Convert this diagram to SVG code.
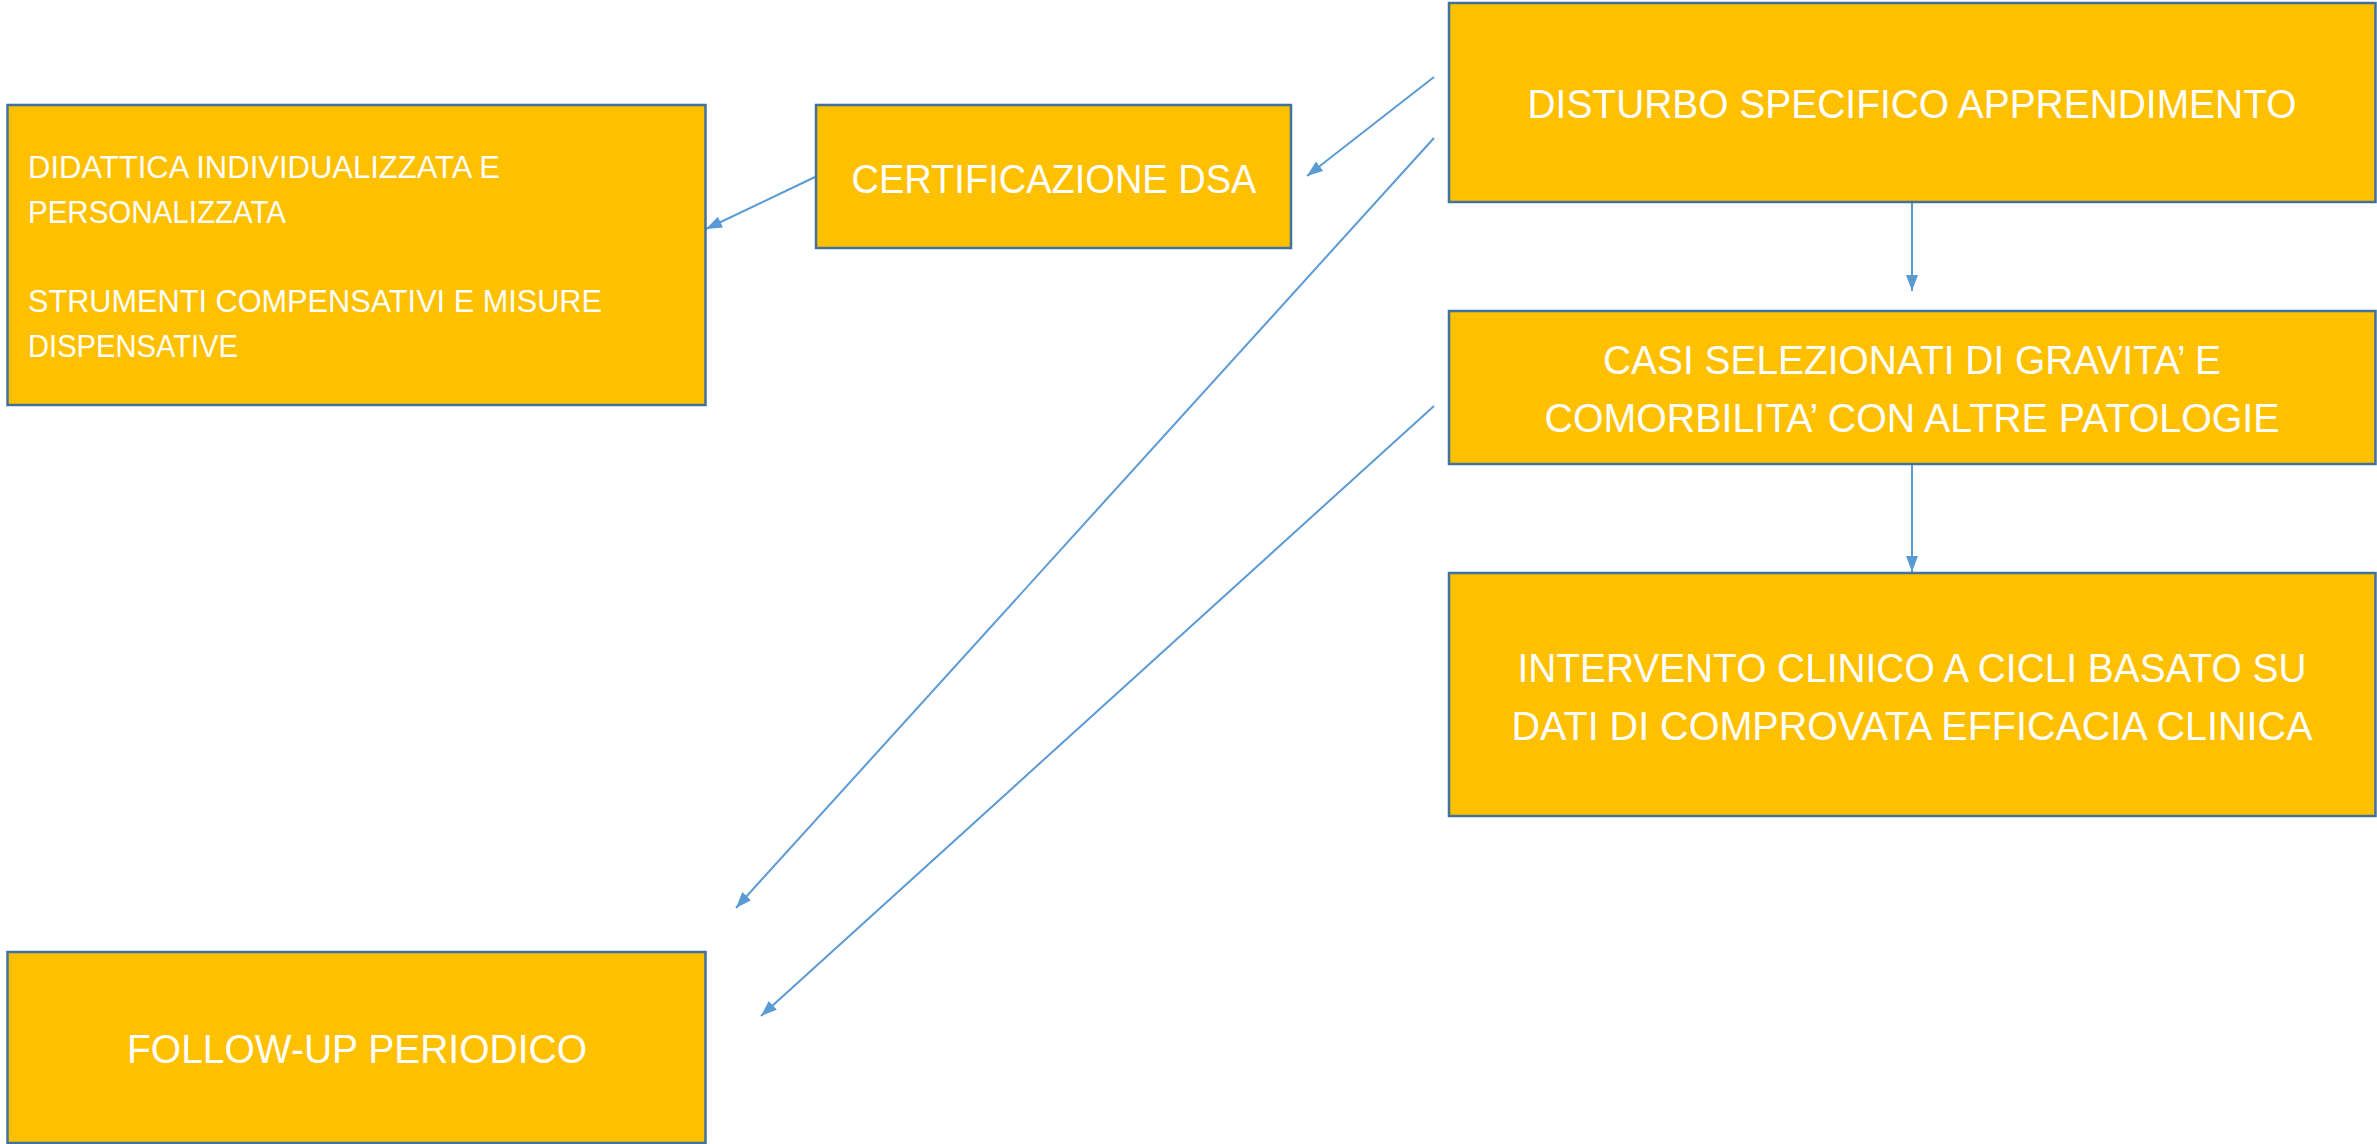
<svg xmlns="http://www.w3.org/2000/svg" width="2377" height="1144" viewBox="0 0 2377 1144">
<style>
.box{fill:#FFC000;stroke:#41719C;stroke-width:2.5}
.t{fill:#FFFFFF;font-family:"Liberation Sans",Arial,sans-serif;font-size:41px}
.tc{text-anchor:middle}
.ts{font-size:32px}
.c{stroke:#5B9BD5;stroke-width:2;fill:none;marker-end:url(#ah)}
</style>
<defs>
<marker id="ah" markerUnits="userSpaceOnUse" markerWidth="17" markerHeight="13" refX="16" refY="6.5" orient="auto" viewBox="0 0 17 13">
<path d="M0,0.5 L16,6.5 L0,12.5 z" fill="#5B9BD5"/>
</marker>
</defs>
<rect width="2377" height="1144" fill="#FFFFFF"/>
<g id="connectors">
<line class="c" x1="1912" y1="202" x2="1912" y2="291"/>
<line class="c" x1="1912" y1="464" x2="1912" y2="572"/>
<line class="c" x1="1434" y1="77" x2="1307" y2="176"/>
<line class="c" x1="815" y1="177" x2="706" y2="229"/>
<line class="c" x1="1434" y1="138" x2="736" y2="908"/>
<line class="c" x1="1434" y1="406" x2="761" y2="1016"/>
</g>
<g id="disturbo">
<rect class="box" x="1449" y="3" width="926.5" height="199"/>
<text class="t tc" x="1912" y="118" textLength="769" lengthAdjust="spacingAndGlyphs">DISTURBO SPECIFICO APPRENDIMENTO</text>
</g>
<g id="casi">
<rect class="box" x="1449" y="311" width="926.5" height="153"/>
<text class="t tc" x="1912" y="374" textLength="618" lengthAdjust="spacingAndGlyphs">CASI SELEZIONATI DI GRAVITA’ E</text>
<text class="t tc" x="1912" y="432" textLength="735" lengthAdjust="spacingAndGlyphs">COMORBILITA’ CON ALTRE PATOLOGIE</text>
</g>
<g id="intervento">
<rect class="box" x="1449" y="573" width="926.5" height="243"/>
<text class="t tc" x="1912" y="682" textLength="789" lengthAdjust="spacingAndGlyphs">INTERVENTO CLINICO A CICLI BASATO SU</text>
<text class="t tc" x="1912" y="740" textLength="801" lengthAdjust="spacingAndGlyphs">DATI DI COMPROVATA EFFICACIA CLINICA</text>
</g>
<g id="certificazione">
<rect class="box" x="816" y="105" width="475" height="143"/>
<text class="t tc" x="1054" y="193" textLength="405" lengthAdjust="spacingAndGlyphs">CERTIFICAZIONE DSA</text>
</g>
<g id="didattica">
<rect class="box" x="7.5" y="105" width="698" height="300"/>
<text class="t ts" x="28" y="178" textLength="472" lengthAdjust="spacingAndGlyphs">DIDATTICA INDIVIDUALIZZATA E</text>
<text class="t ts" x="28" y="223" textLength="258" lengthAdjust="spacingAndGlyphs">PERSONALIZZATA</text>
<text class="t ts" x="28" y="312" textLength="574" lengthAdjust="spacingAndGlyphs">STRUMENTI COMPENSATIVI E MISURE</text>
<text class="t ts" x="28" y="357" textLength="210" lengthAdjust="spacingAndGlyphs">DISPENSATIVE</text>
</g>
<g id="followup">
<rect class="box" x="7.5" y="952" width="698" height="191"/>
<text class="t tc" x="357" y="1063" textLength="460" lengthAdjust="spacingAndGlyphs">FOLLOW-UP PERIODICO</text>
</g>
</svg>
